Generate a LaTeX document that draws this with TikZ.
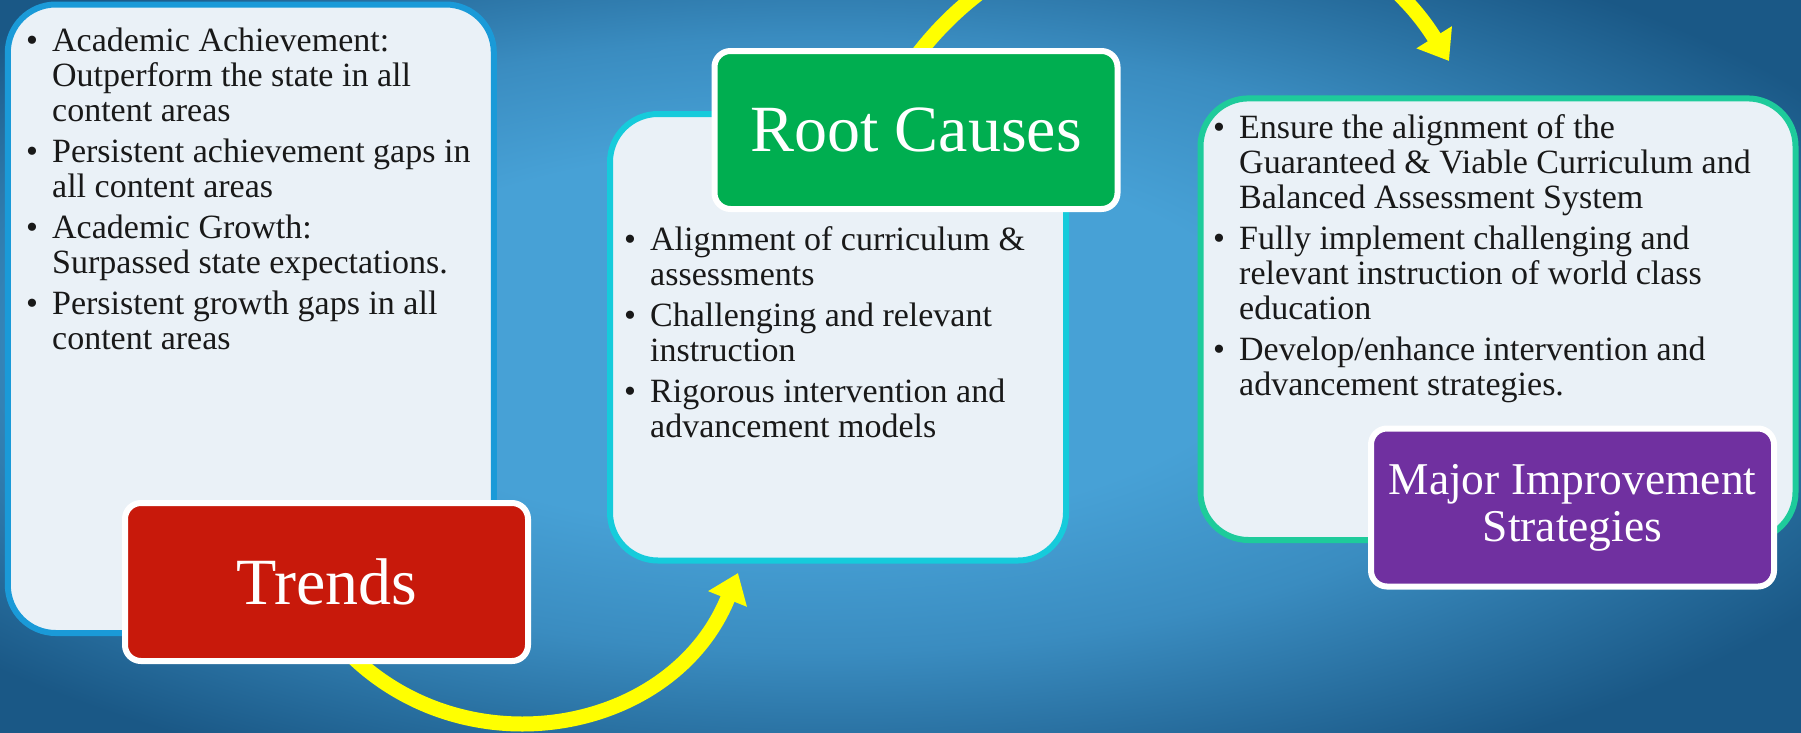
\documentclass[tikz,border=0pt]{standalone}
\usepackage{fontspec}
\setmainfont{Liberation Serif}
\usepackage{xcolor}
\usetikzlibrary{arrows.meta,positioning,calc}

\definecolor{bglight}{HTML}{47A1D6}
\definecolor{bgmid}{HTML}{3A8CC0}
\definecolor{bgdark}{HTML}{1A5886}
\definecolor{panelfill}{HTML}{EAF1F7}
\definecolor{trendsline}{HTML}{1A9AD8}
\definecolor{causesline}{HTML}{16CBDB}
\definecolor{stratline}{HTML}{1ECB9B}
\definecolor{trendsred}{HTML}{C8190B}
\definecolor{causesgreen}{HTML}{00AE50}
\definecolor{stratpurple}{HTML}{7030A0}
\definecolor{arrowyellow}{HTML}{FFFF00}

\pgfdeclareradialshading{bgshade}{\pgfpoint{-4bp}{2.5bp}}{color(0bp)=(bglight); color(13bp)=(bglight); color(21bp)=(bgmid); color(32bp)=(bgdark); color(50bp)=(bgdark)}

\pgfdeclarelayer{back}
\pgfdeclarelayer{arrowlayer}
\pgfsetlayers{back,arrowlayer,main}

\begin{document}
\begin{tikzpicture}[x=1pt,y=1pt,
  panel/.style={draw, line width=6pt, fill=panelfill, rounded corners=48pt, inner sep=0pt},
  titlebox/.style={draw=white, line width=6pt, rounded corners=16pt, minimum width=403pt, minimum height=158pt, inner sep=0pt, text=white},
  bodytext/.style={anchor=base west, font=\fontsize{34}{35}\selectfont, text=black!90, inner sep=0pt},
  cyclearrow/.style={draw=arrowyellow, line width=15pt, -{Triangle[length=28pt,width=40pt]}}]
\useasboundingbox (0,0) rectangle (1801,-732);

% Background
\begin{pgfonlayer}{back}
\shade[shading=bgshade] (0,0) rectangle (1801,-732);
\end{pgfonlayer}

% Panels
\node[panel, draw=trendsline, minimum width=486pt, minimum height=628.5pt] (trendsbox) at (250.8,-318.75) {};
\node[panel, draw=causesline, minimum width=456pt, minimum height=446.5pt] (causesbox) at (838,-337.25) {};
\node[panel, draw=stratline, minimum width=595pt, minimum height=441.6pt] (stratbox) at (1498,-319.2) {};

% Titles
\node[titlebox, fill=trendsred, font=\fontsize{66}{70}\selectfont] (trends) at (326.5,-582) {Trends};
\node[titlebox, fill=causesgreen, font=\fontsize{66}{70}\selectfont] (rootcauses) at (916,-130) {Root Causes};
\node[titlebox, fill=stratpurple, align=center, font=\fontsize{45.5}{47}\selectfont] (majorstrat) at (1572.5,-507.5) {Major Improvement\\Strategies};

% Bullet lists
\node[bodytext] (trendslist) at (26,-51) {\begin{tabular}[t]{@{}p{26pt}@{}l@{}}
\textbullet & Academic Achievement:\\
 & Outperform the state in all\\
 & content areas\\[6pt]
\textbullet & Persistent achievement gaps in\\
 & all content areas\\[6pt]
\textbullet & Academic Growth:\\
 & Surpassed state expectations.\\[6pt]
\textbullet & Persistent growth gaps in all\\
 & content areas
\end{tabular}};

\node[bodytext] (causeslist) at (624,-250) {\begin{tabular}[t]{@{}p{26pt}@{}l@{}}
\textbullet & Alignment of curriculum \&\\
 & assessments\\[6pt]
\textbullet & Challenging and relevant\\
 & instruction\\[6pt]
\textbullet & Rigorous intervention and\\
 & advancement models
\end{tabular}};

\node[bodytext] (stratlist) at (1213,-138) {\begin{tabular}[t]{@{}p{26pt}@{}l@{}}
\textbullet & Ensure the alignment of the\\
 & Guaranteed \& Viable Curriculum and\\
 & Balanced Assessment System\\[6pt]
\textbullet & Fully implement challenging and\\
 & relevant instruction of world class\\
 & education\\[6pt]
\textbullet & Develop/enhance intervention and\\
 & advancement strategies.
\end{tabular}};

% Cycle arrows
\begin{pgfonlayer}{arrowlayer}
\draw[cyclearrow] ([xshift=10pt,yshift=24pt]trends.south) to[out=-49,in=-112,looseness=1.12] ([xshift=131pt,yshift=-9.5pt]causesbox.south west);
\draw[cyclearrow] ([xshift=-16pt,yshift=-32pt]rootcauses.north) to[out=58,in=122,looseness=1.08] ([xshift=-49pt,yshift=34.4pt]stratbox.north);
\end{pgfonlayer}

\end{tikzpicture}
\end{document}
